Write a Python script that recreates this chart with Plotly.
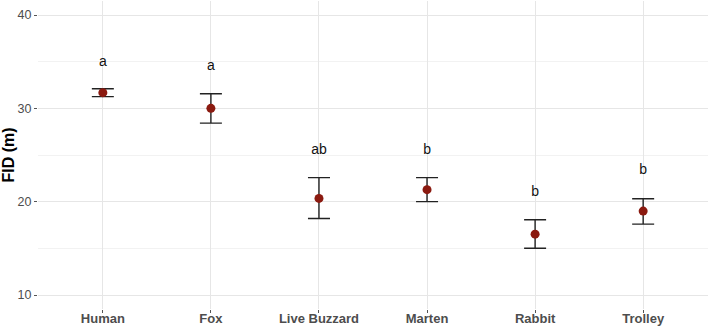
import plotly.graph_objects as go

categories = ["Human", "Fox", "Live Buzzard", "Marten", "Rabbit", "Trolley"]
fid_mean = [31.68, 30.0, 20.35, 21.29, 16.52, 18.99]
fid_upper = [32.1, 31.57, 22.58, 22.58, 18.06, 20.32]
fid_lower = [31.25, 28.42, 18.2, 20.0, 15.01, 17.59]
group_letters = ["a", "a", "ab", "b", "b", "b"]
letter_y = [34.95, 34.5, 25.5, 25.5, 21.0, 23.3]
y_ticks = [10, 20, 30, 40]

err_plus = [u - m for u, m in zip(fid_upper, fid_mean)]
err_minus = [m - l for m, l in zip(fid_mean, fid_lower)]

FONT = "Liberation Sans, Arial, sans-serif"

fig = go.Figure()
fig.add_trace(go.Scatter(
    x=categories, y=fid_mean, mode="markers",
    marker=dict(color="#8b1a10", size=9),
    error_y=dict(type="data", symmetric=False, array=err_plus, arrayminus=err_minus,
                 color="#222222", thickness=1.4, width=11),
    showlegend=False, hoverinfo="skip",
))
fig.add_trace(go.Scatter(
    x=categories, y=letter_y, mode="text", text=group_letters,
    textfont=dict(family=FONT, size=14, color="#111111"),
    textposition="middle center", showlegend=False, hoverinfo="skip",
))

fig.update_layout(
    width=709, height=327,
    margin=dict(l=38, r=1, t=1, b=18),
    paper_bgcolor="white", plot_bgcolor="white",
    font=dict(family=FONT),
)
fig.update_xaxes(
    type="category", range=[-0.6, 5.6], automargin=False,
    showgrid=True, gridcolor="#e6e6e6", gridwidth=1,
    zeroline=False, showline=False,
    ticks="outside", ticklen=3, tickcolor="#555555", tickwidth=1,
    ticklabelstandoff=-6,
    tickfont=dict(family=FONT, size=13, color="#4d4d4d", weight="bold"),
)
fig.update_yaxes(
    range=[8.5, 41.5], tickvals=y_ticks,
    showgrid=True, gridcolor="#e6e6e6", gridwidth=1,
    minor=dict(dtick=5, tick0=0, showgrid=True, gridcolor="#f2f2f2", gridwidth=1, ticks=""),
    zeroline=False, showline=False,
    ticks="outside", ticklen=3, tickcolor="#555555", tickwidth=1,
    tickfont=dict(family=FONT, size=12.5, color="#4d4d4d"),
    title=dict(text="FID (m)", font=dict(family=FONT, size=16, color="black", weight="bold"), standoff=3),
    automargin=False,
)

fig.write_html("out.html", config={"displayModeBar": False},
               post_script="document.body.style.margin='0';document.body.style.overflow='hidden';")
